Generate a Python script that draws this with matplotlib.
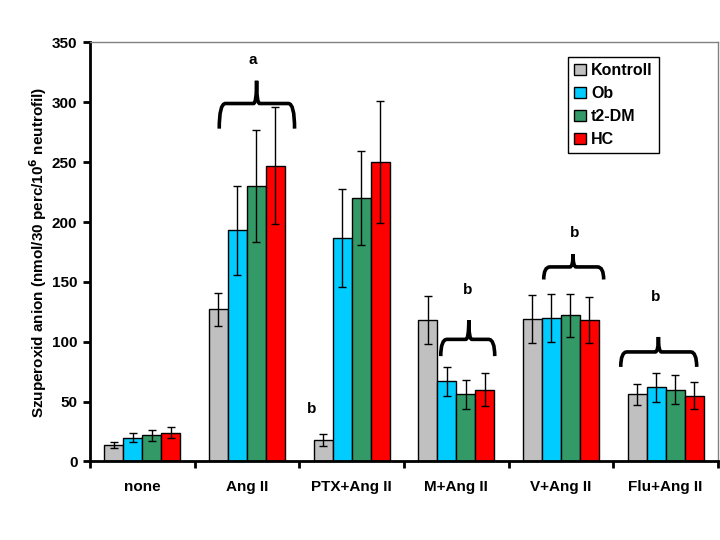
import numpy as np
import matplotlib.pyplot as plt
from matplotlib.path import Path
from matplotlib.patches import PathPatch

plt.rcParams['font.family'] = ['Liberation Sans', 'DejaVu Sans']
plt.rcParams['font.weight'] = 'bold'

categories = ["none", "Ang II", "PTX+Ang II", "M+Ang II", "V+Ang II", "Flu+Ang II"]
groups = ["Kontroll", "Ob", "t2-DM", "HC"]
colors = ["#C0C0C0", "#00CCFF", "#339966", "#FF0000"]

kontroll = [14, 127, 18, 118, 119, 56]
kontroll_err = [2.5, 14, 5, 20, 20, 9]
ob = [20, 193, 187, 67, 120, 62]
ob_err = [4, 37, 41, 12, 20, 12]
t2dm = [22, 230, 220, 56, 122, 60]
t2dm_err = [4.5, 47, 39, 12, 18, 12]
hc = [24, 247, 250, 60, 118, 55]
hc_err = [4.5, 49, 51, 14, 19, 11]

values = [kontroll, ob, t2dm, hc]
errors = [kontroll_err, ob_err, t2dm_err, hc_err]

# braces: x left, x right, x cusp, y cusp, y horizontal, y end
braces = [
    (0.735, 1.455, 1.092, 318, 299, 278),
    (2.852, 3.368, 3.120, 118, 102, 88),
    (3.836, 4.409, 4.116, 173, 162.5, 152),
    (4.572, 5.298, 4.932, 104, 91.5, 79),
]
# significance letters: x, y, text
letters = [
    (1.057, 335, "a"),
    (1.62, 44, "b"),
    (3.11, 143, "b"),
    (4.13, 191, "b"),
    (4.906, 137, "b"),
]

fig = plt.figure(figsize=(7.2, 5.4), dpi=100)
ax = fig.add_axes([0.125, 0.1454, 0.872, 0.776])

x = np.arange(len(categories))
w = 0.1815
for i in range(4):
    pos = x + (i - 1.5) * w
    ax.bar(pos, values[i], w, color=colors[i], edgecolor="black", linewidth=1,
           label=groups[i], zorder=2)
    ax.errorbar(pos, values[i], yerr=errors[i], fmt="none", ecolor="black",
                elinewidth=1, capsize=3, capthick=1, zorder=3)


def brace(xl, xr, xc, yc, yh, ye):
    r = 0.06
    c = 0.03
    verts = [
        (xl, ye), (xl, yh), (xl + r, yh),
        (xc - c, yh),
        (xc, yh), (xc, yc),
        (xc, yh), (xc + c, yh),
        (xr - r, yh),
        (xr, yh), (xr, ye),
    ]
    codes = [Path.MOVETO, Path.CURVE3, Path.CURVE3,
             Path.LINETO,
             Path.CURVE3, Path.CURVE3,
             Path.CURVE3, Path.CURVE3,
             Path.LINETO,
             Path.CURVE3, Path.CURVE3]
    ax.add_patch(PathPatch(Path(verts, codes), fill=False, lw=2.6,
                           edgecolor="black", zorder=4, capstyle="butt"))


for b in braces:
    brace(*b)
for lx, ly, t in letters:
    ax.text(lx, ly, t, ha="center", va="center", fontsize=11, fontweight="bold")

ax.set_xlim(-0.5, len(categories) - 0.5)
ax.set_ylim(0, 350)
ax.set_yticks(np.arange(0, 351, 50))
ax.set_xticks(np.arange(-0.5, len(categories), 1.0))
ax.set_xticklabels([])
ax.set_xticks(x, minor=True)
ax.set_xticklabels(categories, minor=True, fontsize=11, fontweight="bold")
ax.tick_params(axis="x", which="minor", length=0, pad=13)
ax.tick_params(axis="x", which="major", direction="out", length=5, width=2)
ax.tick_params(axis="y", direction="out", length=5, width=2, labelsize=11, pad=4)
for lab in ax.get_yticklabels():
    lab.set_fontweight("bold")

ax.spines["left"].set_linewidth(2)
ax.spines["bottom"].set_linewidth(2)
ax.spines["top"].set_color("#808080")
ax.spines["right"].set_color("#808080")
ax.spines["top"].set_linewidth(1)
ax.spines["right"].set_linewidth(1)

ax.set_ylabel("Szuperoxid anion (nmol/30 perc/10$^{\\mathbf{6}}$ neutrofil)",
              fontsize=11, fontweight="bold", labelpad=2)

leg = ax.legend(loc="upper right", bbox_to_anchor=(0.9065, 0.966), fontsize=11.5,
                frameon=True, fancybox=False, edgecolor="black", framealpha=1,
                handlelength=0.75, handleheight=0.75, handletextpad=0.3,
                labelspacing=0.5, borderpad=0.4, borderaxespad=0)
leg.get_frame().set_linewidth(1)
for t in leg.get_texts():
    t.set_fontweight("bold")

fig.savefig("out.png", dpi=100)
